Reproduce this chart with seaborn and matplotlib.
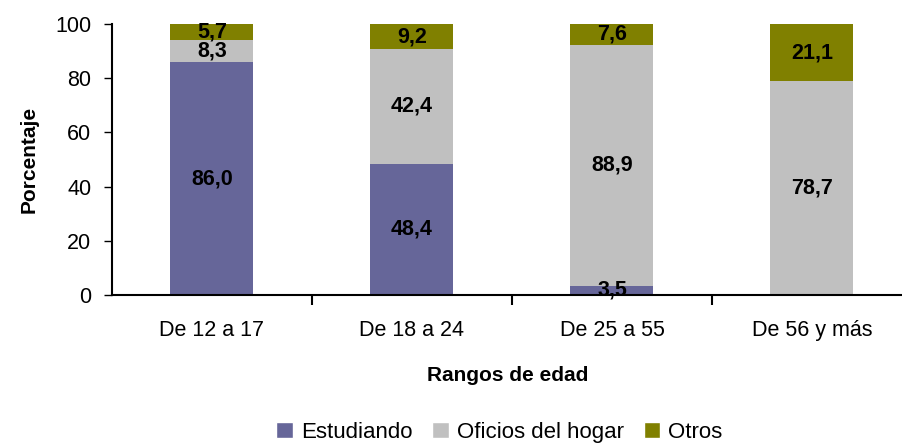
import matplotlib
matplotlib.use('Agg')
import matplotlib.pyplot as plt
import numpy as np
import pandas as pd
import seaborn as sns
from matplotlib.patches import Patch

rangos = ["De 12 a 17", "De 18 a 24", "De 25 a 55", "De 56 y más"]
estudiando = [86.0, 48.4, 3.5, 0.2]
oficios = [8.3, 42.4, 88.9, 78.7]
otros = [5.7, 9.2, 7.6, 21.1]
series = ["Estudiando", "Oficios del hogar", "Otros"]
colores = ["#666699", "#C0C0C0", "#808000"]

sns.set_style('white', {'text.color': 'black', 'axes.labelcolor': 'black',
                        'xtick.color': 'black', 'ytick.color': 'black'})
plt.rcParams['font.family'] = ['Liberation Sans', 'DejaVu Sans']

vals = np.array([estudiando, oficios, otros])
tops = vals.cumsum(axis=0)

fig = plt.figure(figsize=(9.03, 4.47), dpi=100)
ax = fig.add_axes([0.124, 0.34, 0.876, 0.606])

# draw from the top layer down so each stack shows its segment
for i in range(2, -1, -1):
    df = pd.DataFrame({'rango': rangos, 'valor': tops[i]})
    sns.barplot(data=df, x='rango', y='valor', color=colores[i], saturation=1,
                width=0.415, ax=ax, linewidth=0)

for i in range(3):
    for j, r in enumerate(rangos):
        v = vals[i][j]
        if v < 1:
            continue
        ax.text(j, tops[i][j] - v / 2, f"{v:.1f}".replace('.', ','),
                ha='center', va='center', fontsize=15.5, fontweight='bold',
                color='black', clip_on=False)

ax.set_ylim(0, 100)
ax.set_xlim(-0.5, 3.455)
ax.set_yticks([0, 20, 40, 60, 80, 100])
ax.set_ylabel("Porcentaje", fontsize=15, fontweight='bold', labelpad=12)
ax.set_xlabel("Rangos de edad", fontsize=15, fontweight='bold', labelpad=18)
ax.tick_params(axis='y', labelsize=15.5, length=6, width=1, direction='out', left=True, pad=9)
ax.tick_params(axis='x', which='major', labelsize=15.5, length=0, pad=18)
ax.set_xticks([0.5, 1.5, 2.5], minor=True)
ax.tick_params(axis='x', which='minor', length=7, width=1.5, direction='out', bottom=True)
for s in ['top', 'right']:
    ax.spines[s].set_visible(False)
for s in ['left', 'bottom']:
    ax.spines[s].set_color('black')
    ax.spines[s].set_linewidth(1.5)

handles = [Patch(facecolor=c, label=s) for c, s in zip(colores, series)]
fig.legend(handles=handles, loc='lower center', bbox_to_anchor=(0.553, -0.035),
           ncol=3, frameon=False, fontsize=16, handlelength=0.75, handleheight=0.75,
           handletextpad=0.35, columnspacing=0.9)

fig.savefig('out.png', dpi=100)
